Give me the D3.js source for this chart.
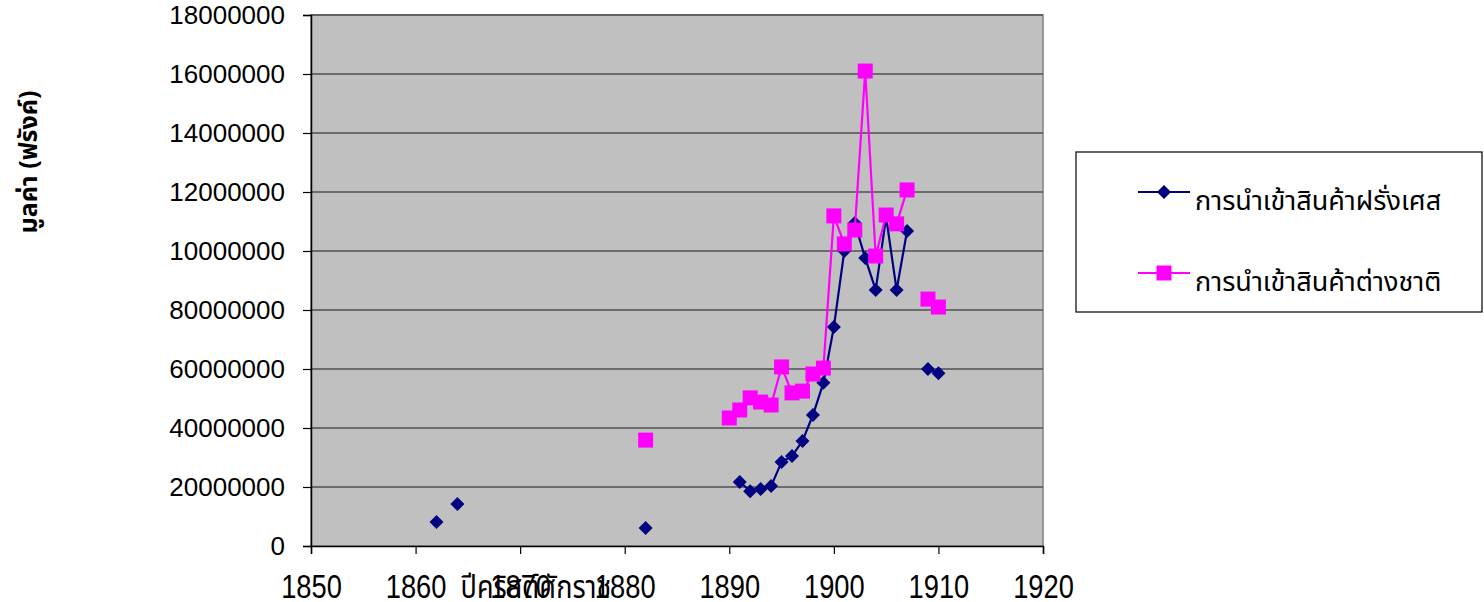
<!DOCTYPE html>
<html>
<head>
<meta charset="utf-8">
<script src="https://cdn.jsdelivr.net/npm/d3@7"></script>
<style>
  body { margin: 0; background: #fff; }
  svg text { font-family: "Liberation Sans", Arial, sans-serif; }
</style>
</head>
<body>
<svg id="chart" width="1484" height="602"></svg>
<script>
// years and values (francs); null = no data for that series
var years = [1862, 1864, 1882, 1890, 1891, 1892, 1893, 1894, 1895, 1896, 1897, 1898, 1899,
             1900, 1901, 1902, 1903, 1904, 1905, 1906, 1907, 1909, 1910];
var french = [8100000, 14200000, 6100000, null, 21700000, 18600000, 19300000, 20300000, 28500000,
              30500000, 35600000, 44400000, 55300000, 74200000, 100000000, 109500000, 97600000,
              86800000, 111500000, 86800000, 106800000, 60000000, 58600000];
var foreign = [null, null, 35900000, 43400000, 46100000, 50200000, 48800000, 47800000, 60700000,
               51900000, 52500000, 58300000, 60300000, 111900000, 102400000, 107100000, 161000000,
               98300000, 112200000, 109200000, 120700000, 83700000, 81000000];
var seriesNames = ["การนำเข้าสินค้าฝรั่งเศส", "การนำเข้าสินค้าต่างชาติ"];
var xTicks = [1850, 1860, 1870, 1880, 1890, 1900, 1910, 1920];
var yTicks = [0, 20000000, 40000000, 60000000, 80000000, 100000000, 120000000, 140000000, 160000000, 180000000];
var yTickLabels = ["0", "20000000", "40000000", "60000000", "80000000", "10000000",
                   "12000000", "14000000", "16000000", "18000000"];
var xTitle = "ปีคริสต์ศักราช";
var yTitle = "มูลค่า (ฟรังค์)";

var svg = d3.select("#chart");
var thai = '"Noto Sans Thai", "Noto Sans", "DejaVu Sans", sans-serif';

var x = d3.scaleLinear().domain([1850, 1920]).range([311, 1043]);
var y = d3.scaleLinear().domain([0, 180000000]).range([546, 15]);

// plot area
svg.append("rect")
  .attr("x", x(1850)).attr("y", y(180000000))
  .attr("width", x(1920) - x(1850)).attr("height", y(0) - y(180000000))
  .attr("fill", "#c0c0c0").attr("stroke", "#808080").attr("stroke-width", 1.5);

// gridlines
svg.append("g").selectAll("line")
  .data(yTicks.slice(1))
  .enter().append("line")
  .attr("x1", x(1850)).attr("x2", x(1920))
  .attr("y1", function(d) { return y(d); }).attr("y2", function(d) { return y(d); })
  .attr("stroke", "#505050").attr("stroke-width", 1.6);

// axes
var yAxis = d3.axisLeft(y).tickValues(yTicks).tickSize(8).tickPadding(18)
  .tickFormat(function(d, i) { return yTickLabels[i]; });
var gy = svg.append("g").attr("transform", "translate(" + x(1850) + ",0)").call(yAxis);
gy.select(".domain").attr("stroke", "#000").attr("stroke-width", 1.5);
gy.selectAll(".tick line").attr("stroke", "#000").attr("stroke-width", 1.2);
gy.selectAll("text").attr("font-size", 26).attr("fill", "#000")
  .attr("font-family", "Liberation Sans, Arial, sans-serif");

var xAxis = d3.axisBottom(x).tickValues(xTicks).tickSize(8).tickPadding(0)
  .tickFormat(d3.format("d"));
var gx = svg.append("g").attr("transform", "translate(0," + y(0) + ")").call(xAxis);
gx.select(".domain").attr("stroke", "#000").attr("stroke-width", 1.5);
gx.selectAll(".tick line").attr("stroke", "#000").attr("stroke-width", 1.2);
// labels look vertically stretched in the original
gx.selectAll("text")
  .attr("font-size", 26).attr("fill", "#000").attr("dy", null).attr("y", 0)
  .attr("font-family", "Liberation Sans, Arial, sans-serif")
  .attr("transform", "translate(0,52) scale(1.05,1.3)");

// axis titles
svg.append("text")
  .attr("transform", "translate(536,598) scale(1,1.2)")
  .attr("text-anchor", "middle")
  .style("font-family", thai).attr("font-size", 27)
  .text(xTitle);

svg.append("text")
  .attr("transform", "translate(37,162) rotate(-90)")
  .attr("text-anchor", "middle")
  .style("font-family", thai).attr("font-size", 25).attr("font-weight", "bold")
  .text(yTitle);

// split a series into runs of consecutive years
function segments(vals) {
  var segs = [], cur = [];
  years.forEach(function(yr, i) {
    var v = vals[i];
    if (v == null) { if (cur.length) segs.push(cur); cur = []; return; }
    if (cur.length && yr - cur[cur.length - 1].year > 1) { segs.push(cur); cur = []; }
    cur.push({year: yr, value: v});
  });
  if (cur.length) segs.push(cur);
  return segs;
}

var line = d3.line()
  .x(function(d) { return x(d.year); })
  .y(function(d) { return y(d.value); });

var series = [
  {vals: french, color: "#000080", symbol: d3.symbolDiamond2, size: 125},
  {vals: foreign, color: "#ff00ff", symbol: d3.symbolSquare, size: 225}
];

series.forEach(function(s) {
  var g = svg.append("g");
  g.selectAll("path.ln")
    .data(segments(s.vals))
    .enter().append("path")
    .attr("class", "ln")
    .attr("d", line)
    .attr("fill", "none").attr("stroke", s.color).attr("stroke-width", 2.2);

  var pts = years.map(function(yr, i) { return {year: yr, value: s.vals[i]}; })
    .filter(function(d) { return d.value != null; });
  g.selectAll("path.mk")
    .data(pts)
    .enter().append("path")
    .attr("class", "mk")
    .attr("transform", function(d) { return "translate(" + x(d.year) + "," + y(d.value) + ")"; })
    .attr("d", d3.symbol().type(s.symbol).size(s.size))
    .attr("fill", s.color);
});

// legend
var lg = svg.append("g");
lg.append("rect")
  .attr("x", 1076).attr("y", 152).attr("width", 406).attr("height", 160)
  .attr("fill", "#fff").attr("stroke", "#000").attr("stroke-width", 1.2);

[192, 273].forEach(function(ly, i) {
  var s = series[i];
  lg.append("line")
    .attr("x1", 1138).attr("x2", 1190).attr("y1", ly).attr("y2", ly)
    .attr("stroke", s.color).attr("stroke-width", 2.2);
  lg.append("path")
    .attr("transform", "translate(1164," + ly + ")")
    .attr("d", d3.symbol().type(s.symbol).size(s.size))
    .attr("fill", s.color);
  lg.append("text")
    .attr("x", 1195).attr("y", ly + 18)
    .style("font-family", thai).attr("font-size", 27)
    .text(seriesNames[i]);
});
</script>
</body>
</html>
